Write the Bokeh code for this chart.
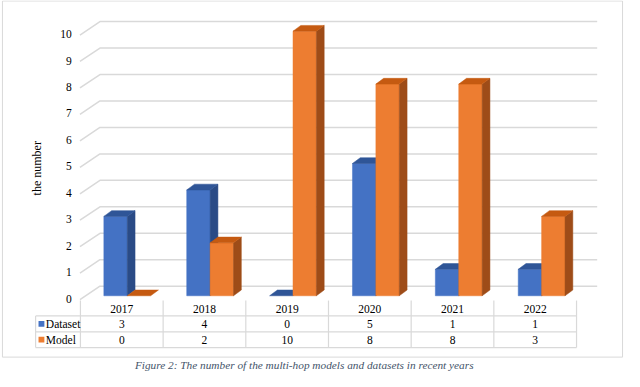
import math
from bokeh.plotting import figure
from bokeh.models import Range1d
from bokeh.core.properties import value
from bokeh.embed import file_html
from bokeh.resources import INLINE

# ---------------- data ----------------
years = ["2017", "2018", "2019", "2020", "2021", "2022"]
dataset = [3, 4, 0, 5, 1, 1]
model = [0, 2, 10, 8, 8, 3]
series_names = ["Dataset", "Model"]
y_ticks = list(range(0, 11))
y_title = "the number"
caption = "Figure 2: The number of the multi-hop models and datasets in recent years"

# ---------------- layout (reference-pixel geometry) ----------------
REF_W, REF_H = 640, 387
W, H = 624, 371
X0, XS = 130.0, 85.0     # ref px of category 0 centre, px per category
Y0, YS = 308.0, 27.6     # ref px of value 0 (bar base), px per unit

def X(rx):
    return (rx - X0) / XS

def Y(ry):
    return (Y0 - ry) / YS

def dx(px):
    return px / XS

def dy(px):
    return px / YS

FONT = value("Liberation Serif")
BLUE = ["#4472C4", "#2A4B86", "#2F5597"]     # front, side, top
ORANGE = ["#ED7D31", "#9E4C18", "#C55A11"]
COLORS = [BLUE, ORANGE]
GRID = "#D9D9D9"
TXT = "#000000"

p = figure(width=W, height=H, output_backend="svg", toolbar_location=None,
           x_range=Range1d(X(0), X(REF_W)), y_range=Range1d(Y(REF_H), Y(0)),
           min_border=0)
p.axis.visible = False
p.grid.visible = False
p.outline_line_color = None
p.background_fill_color = "white"
p.border_fill_color = "white"

# outer chart border
p.quad(left=[X(2)], right=[X(638)], top=[Y(0.5)], bottom=[Y(372)],
       fill_color=None, line_color=GRID, line_width=1)

# ---------------- back wall gridlines ----------------
gx, gy = [], []
for v in y_ticks:
    gx.append([X(81.5), X(102), X(612)])
    gy.append([v - dy(4), v + dy(10), v + dy(10)])
p.multi_line(xs=gx, ys=gy, line_color=GRID, line_width=1.5)

# tick labels
p.text(x=[X(73)] * len(y_ticks), y=[v - dy(3) for v in y_ticks],
       text=[str(v) for v in y_ticks], text_font=FONT, text_font_size="11.5px",
       text_align="right", text_baseline="middle", text_color=TXT)

# axis title
p.text(x=[X(37)], y=[Y(175)], text=[y_title], angle=math.pi / 2,
       text_font=FONT, text_font_size="12px", text_align="center",
       text_baseline="middle", text_color=TXT)

# ---------------- 3D bars ----------------
BW = dx(24)
OX, OY = dx(8), dy(6)
for s, vals in enumerate([dataset, model]):
    fr_x, fr_y, sd_x, sd_y, tp_x, tp_y = [], [], [], [], [], []
    for i, v in enumerate(vals):
        x0 = i - BW if s == 0 else i
        x1 = x0 + BW
        if v > 0:
            fr_x.append([x0, x1, x1, x0])
            fr_y.append([0, 0, v, v])
            sd_x.append([x1, x1, x1 + OX, x1 + OX])
            sd_y.append([0, v, v + OY, OY])
        tp_x.append([x0, x1, x1 + OX, x0 + OX])
        tp_y.append([v, v, v + OY, v + OY])
    c = COLORS[s]
    p.patches(xs=fr_x, ys=fr_y, fill_color=c[0], line_color=c[0], line_width=0.5)
    p.patches(xs=sd_x, ys=sd_y, fill_color=c[1], line_color=c[1], line_width=0.5)
    p.patches(xs=tp_x, ys=tp_y, fill_color=c[2], line_color=c[2], line_width=0.5)

# ---------------- data table ----------------
TX0, TW = 82.0, 84.8
ROW_TOP, ROW1, ROW2, ROW3 = 313.0, 329.0, 345.7, 362.0
LEG_L = 36.0
ncol = len(years)

lx, ly = [], []
for k in range(ncol + 1):
    xr = TX0 + TW * k
    lx.append([X(xr), X(xr)])
    ly.append([Y(ROW_TOP), Y(ROW3)])
lx.append([X(LEG_L), X(LEG_L)])
ly.append([Y(ROW1), Y(ROW3)])
for r in (ROW1, ROW2, ROW3):
    lx.append([X(LEG_L), X(TX0 + TW * ncol)])
    ly.append([Y(r), Y(r)])
p.multi_line(xs=lx, ys=ly, line_color=GRID, line_width=1.2)

col_c = [X(TX0 + TW * (k + 0.5)) for k in range(ncol)]
hdr_y = Y((ROW_TOP + ROW1) / 2 + 1)
r1_y = Y((ROW1 + ROW2) / 2)
r2_y = Y((ROW2 + ROW3) / 2)
p.text(x=col_c, y=[hdr_y] * ncol, text=years, text_font=FONT,
       text_font_size="11.5px", text_align="center", text_baseline="middle",
       text_color=TXT)
p.text(x=col_c, y=[r1_y] * ncol, text=[str(v) for v in dataset], text_font=FONT,
       text_font_size="11.5px", text_align="center", text_baseline="middle",
       text_color=TXT)
p.text(x=col_c, y=[r2_y] * ncol, text=[str(v) for v in model], text_font=FONT,
       text_font_size="11.5px", text_align="center", text_baseline="middle",
       text_color=TXT)

# legend keys in table
for s, ry in enumerate([(ROW1 + ROW2) / 2, (ROW2 + ROW3) / 2]):
    p.quad(left=[X(39)], right=[X(45)], top=[Y(ry - 3)], bottom=[Y(ry + 3)],
           fill_color=COLORS[s][0], line_color=None)
    p.text(x=[X(46.5)], y=[Y(ry)], text=[series_names[s]], text_font=FONT,
           text_font_size="11.5px", text_align="left", text_baseline="middle",
           text_color=TXT)

# caption
p.text(x=[X(311.5)], y=[Y(380)], text=[caption], text_font=FONT,
       text_font_size="11.3px", text_font_style="italic", text_align="center",
       text_baseline="middle", text_color="#44546A")

open("out.html", "w").write(file_html(p, INLINE))
